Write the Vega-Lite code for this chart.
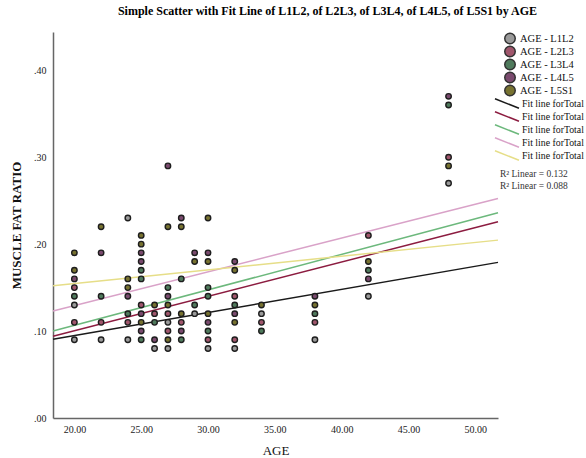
{
  "$schema": "https://vega.github.io/schema/vega-lite/v6.json",
  "width": 445,
  "height": 386,
  "autosize": "none",
  "padding": {"left": 53, "top": 32, "right": 88, "bottom": 40},
  "background": "white",
  "config": {"view": {"stroke": null}, "font": "Liberation Serif"},
  "title": {
    "text": "Simple Scatter with Fit Line of L1L2,  of L2L3,  of L3L4,  of L4L5,  of L5S1 by AGE",
    "font": "Liberation Serif", "fontSize": 12, "fontWeight": "bold", "color": "black",
    "anchor": "middle", "offset": 14, "dx": 52
  },
  "datasets": {
    "points": [
      {"age": 20, "ratio": 0.19, "series": "AGE - L5S1"},
      {"age": 20, "ratio": 0.17, "series": "AGE - L5S1"},
      {"age": 20, "ratio": 0.16, "series": "AGE - L4L5"},
      {"age": 20, "ratio": 0.15, "series": "AGE - L2L3"},
      {"age": 20, "ratio": 0.14, "series": "AGE - L3L4"},
      {"age": 20, "ratio": 0.13, "series": "AGE - L1L2"},
      {"age": 20, "ratio": 0.11, "series": "AGE - L2L3"},
      {"age": 20, "ratio": 0.09, "series": "AGE - L1L2"},
      {"age": 22, "ratio": 0.22, "series": "AGE - L5S1"},
      {"age": 22, "ratio": 0.19, "series": "AGE - L4L5"},
      {"age": 22, "ratio": 0.14, "series": "AGE - L3L4"},
      {"age": 22, "ratio": 0.11, "series": "AGE - L2L3"},
      {"age": 22, "ratio": 0.09, "series": "AGE - L1L2"},
      {"age": 24, "ratio": 0.23, "series": "AGE - L1L2"},
      {"age": 24, "ratio": 0.16, "series": "AGE - L5S1"},
      {"age": 24, "ratio": 0.15, "series": "AGE - L5S1"},
      {"age": 24, "ratio": 0.14, "series": "AGE - L4L5"},
      {"age": 24, "ratio": 0.12, "series": "AGE - L3L4"},
      {"age": 24, "ratio": 0.11, "series": "AGE - L2L3"},
      {"age": 24, "ratio": 0.09, "series": "AGE - L1L2"},
      {"age": 25, "ratio": 0.21, "series": "AGE - L5S1"},
      {"age": 25, "ratio": 0.20, "series": "AGE - L5S1"},
      {"age": 25, "ratio": 0.19, "series": "AGE - L4L5"},
      {"age": 25, "ratio": 0.18, "series": "AGE - L4L5"},
      {"age": 25, "ratio": 0.17, "series": "AGE - L3L4"},
      {"age": 25, "ratio": 0.16, "series": "AGE - L3L4"},
      {"age": 25, "ratio": 0.13, "series": "AGE - L2L3"},
      {"age": 25, "ratio": 0.12, "series": "AGE - L4L5"},
      {"age": 25, "ratio": 0.11, "series": "AGE - L5S1"},
      {"age": 25, "ratio": 0.10, "series": "AGE - L4L5"},
      {"age": 25, "ratio": 0.09, "series": "AGE - L3L4"},
      {"age": 26, "ratio": 0.13, "series": "AGE - L5S1"},
      {"age": 26, "ratio": 0.12, "series": "AGE - L2L3"},
      {"age": 26, "ratio": 0.11, "series": "AGE - L3L4"},
      {"age": 26, "ratio": 0.09, "series": "AGE - L4L5"},
      {"age": 26, "ratio": 0.08, "series": "AGE - L1L2"},
      {"age": 27, "ratio": 0.29, "series": "AGE - L4L5"},
      {"age": 27, "ratio": 0.22, "series": "AGE - L5S1"},
      {"age": 27, "ratio": 0.15, "series": "AGE - L3L4"},
      {"age": 27, "ratio": 0.14, "series": "AGE - L4L5"},
      {"age": 27, "ratio": 0.13, "series": "AGE - L5S1"},
      {"age": 27, "ratio": 0.12, "series": "AGE - L2L3"},
      {"age": 27, "ratio": 0.11, "series": "AGE - L1L2"},
      {"age": 27, "ratio": 0.10, "series": "AGE - L2L3"},
      {"age": 27, "ratio": 0.09, "series": "AGE - L5S1"},
      {"age": 27, "ratio": 0.08, "series": "AGE - L1L2"},
      {"age": 28, "ratio": 0.23, "series": "AGE - L4L5"},
      {"age": 28, "ratio": 0.22, "series": "AGE - L5S1"},
      {"age": 28, "ratio": 0.16, "series": "AGE - L3L4"},
      {"age": 28, "ratio": 0.12, "series": "AGE - L5S1"},
      {"age": 28, "ratio": 0.11, "series": "AGE - L2L3"},
      {"age": 28, "ratio": 0.10, "series": "AGE - L4L5"},
      {"age": 28, "ratio": 0.09, "series": "AGE - L3L4"},
      {"age": 29, "ratio": 0.19, "series": "AGE - L4L5"},
      {"age": 29, "ratio": 0.18, "series": "AGE - L5S1"},
      {"age": 29, "ratio": 0.13, "series": "AGE - L3L4"},
      {"age": 29, "ratio": 0.12, "series": "AGE - L1L2"},
      {"age": 30, "ratio": 0.23, "series": "AGE - L5S1"},
      {"age": 30, "ratio": 0.19, "series": "AGE - L4L5"},
      {"age": 30, "ratio": 0.18, "series": "AGE - L5S1"},
      {"age": 30, "ratio": 0.15, "series": "AGE - L3L4"},
      {"age": 30, "ratio": 0.14, "series": "AGE - L3L4"},
      {"age": 30, "ratio": 0.12, "series": "AGE - L5S1"},
      {"age": 30, "ratio": 0.11, "series": "AGE - L4L5"},
      {"age": 30, "ratio": 0.10, "series": "AGE - L3L4"},
      {"age": 30, "ratio": 0.09, "series": "AGE - L2L3"},
      {"age": 30, "ratio": 0.08, "series": "AGE - L1L2"},
      {"age": 32, "ratio": 0.18, "series": "AGE - L4L5"},
      {"age": 32, "ratio": 0.17, "series": "AGE - L5S1"},
      {"age": 32, "ratio": 0.14, "series": "AGE - L2L3"},
      {"age": 32, "ratio": 0.13, "series": "AGE - L3L4"},
      {"age": 32, "ratio": 0.12, "series": "AGE - L4L5"},
      {"age": 32, "ratio": 0.11, "series": "AGE - L5S1"},
      {"age": 32, "ratio": 0.09, "series": "AGE - L2L3"},
      {"age": 32, "ratio": 0.08, "series": "AGE - L1L2"},
      {"age": 34, "ratio": 0.13, "series": "AGE - L5S1"},
      {"age": 34, "ratio": 0.12, "series": "AGE - L1L2"},
      {"age": 34, "ratio": 0.11, "series": "AGE - L2L3"},
      {"age": 34, "ratio": 0.10, "series": "AGE - L3L4"},
      {"age": 38, "ratio": 0.14, "series": "AGE - L4L5"},
      {"age": 38, "ratio": 0.13, "series": "AGE - L5S1"},
      {"age": 38, "ratio": 0.12, "series": "AGE - L3L4"},
      {"age": 38, "ratio": 0.11, "series": "AGE - L2L3"},
      {"age": 38, "ratio": 0.09, "series": "AGE - L1L2"},
      {"age": 42, "ratio": 0.21, "series": "AGE - L2L3"},
      {"age": 42, "ratio": 0.18, "series": "AGE - L5S1"},
      {"age": 42, "ratio": 0.17, "series": "AGE - L3L4"},
      {"age": 42, "ratio": 0.16, "series": "AGE - L4L5"},
      {"age": 42, "ratio": 0.14, "series": "AGE - L1L2"},
      {"age": 48, "ratio": 0.37, "series": "AGE - L4L5"},
      {"age": 48, "ratio": 0.36, "series": "AGE - L3L4"},
      {"age": 48, "ratio": 0.30, "series": "AGE - L2L3"},
      {"age": 48, "ratio": 0.29, "series": "AGE - L5S1"},
      {"age": 48, "ratio": 0.27, "series": "AGE - L1L2"}
    ],
    "fits": [
      {"fit": "L1L2", "age": 18.4, "ratio": 0.0905},
      {"fit": "L1L2", "age": 51.7, "ratio": 0.179},
      {"fit": "L2L3", "age": 18.4, "ratio": 0.094},
      {"fit": "L2L3", "age": 51.7, "ratio": 0.2257},
      {"fit": "L3L4", "age": 18.4, "ratio": 0.1},
      {"fit": "L3L4", "age": 51.7, "ratio": 0.236},
      {"fit": "L4L5", "age": 18.4, "ratio": 0.123},
      {"fit": "L4L5", "age": 51.7, "ratio": 0.2525},
      {"fit": "L5S1", "age": 18.4, "ratio": 0.152},
      {"fit": "L5S1", "age": 51.7, "ratio": 0.2046}
    ],
    "notes": [
      {"age": 51.85, "ratio": 0.2805, "label": "R² Linear = 0.132"},
      {"age": 51.85, "ratio": 0.2667, "label": "R² Linear = 0.088"}
    ]
  },
  "layer": [
    {
      "data": {"name": "fits"},
      "mark": {"type": "line", "strokeWidth": 1.5},
      "encoding": {
        "x": {
          "field": "age", "type": "quantitative",
          "scale": {"domain": [18.4, 51.7], "nice": false, "zero": false},
          "axis": {
            "title": "AGE", "values": [20, 25, 30, 35, 40, 45, 50], "format": ".2f",
            "ticks": false, "grid": false, "domainColor": "#666", "domainWidth": 1.5,
            "labelFont": "Liberation Sans Narrow", "labelFontSize": 10, "labelColor": "#222", "labelPadding": 6,
            "titleFont": "Liberation Serif", "titleFontSize": 13, "titleFontWeight": "normal", "titleColor": "#111", "titlePadding": 10
          }
        },
        "y": {
          "field": "ratio", "type": "quantitative",
          "scale": {"domain": [0, 0.444], "nice": false, "zero": true},
          "axis": {
            "title": "MUSCLE FAT RATIO", "values": [0, 0.1, 0.2, 0.3, 0.4],
            "labelExpr": "substring(format(datum.value, '.2f'), 1)",
            "ticks": false, "grid": false, "domainColor": "#666", "domainWidth": 1.5,
            "labelFont": "Liberation Sans Narrow", "labelFontSize": 10, "labelColor": "#222", "labelPadding": 7,
            "titleFont": "Liberation Serif", "titleFontSize": 13, "titleFontWeight": "bold", "titleColor": "#111", "titlePadding": 10
          }
        },
        "stroke": {
          "field": "fit", "type": "nominal",
          "scale": {"domain": ["L1L2", "L2L3", "L3L4", "L4L5", "L5S1"], "range": ["#1a1a1a", "#8c1c40", "#6cb87c", "#d9a2c8", "#e6de88"]},
          "legend": {
            "orient": "none", "legendX": 441, "legendY": 65, "title": null, "padding": 0,
            "symbolType": "M-1,-0.8L3,0.8", "symbolSize": 144, "symbolStrokeWidth": 1.5,
            "labelExpr": "'Fit line forTotal'", "labelFont": "Liberation Serif", "labelFontSize": 9.8,
            "labelColor": "#111", "labelOffset": 14, "rowPadding": 0, "clipHeight": 13
          }
        }
      }
    },
    {
      "data": {"name": "points"},
      "mark": {"type": "circle", "size": 30, "stroke": "#1e1e1e", "strokeWidth": 1.4, "opacity": 1},
      "encoding": {
        "x": {"field": "age", "type": "quantitative", "scale": {"domain": [18.4, 51.7], "nice": false, "zero": false}},
        "y": {"field": "ratio", "type": "quantitative", "scale": {"domain": [0, 0.444], "nice": false, "zero": true}},
        "fill": {
          "field": "series", "type": "nominal",
          "scale": {"domain": ["AGE - L1L2", "AGE - L2L3", "AGE - L3L4", "AGE - L4L5", "AGE - L5S1"], "range": ["#9a9a9a", "#a0566c", "#4f7a5c", "#7a4a6e", "#777230"]},
          "legend": {
            "orient": "none", "legendX": 451, "legendY": 0, "title": null, "padding": 0,
            "symbolType": "circle", "symbolSize": 110, "symbolStrokeColor": "#333", "symbolStrokeWidth": 1.5,
            "labelFont": "Liberation Serif", "labelFontSize": 10.5, "labelColor": "#111", "labelOffset": 4, "rowPadding": 0, "clipHeight": 13
          }
        }
      }
    },
    {
      "data": {"name": "notes"},
      "mark": {"type": "text", "align": "left", "baseline": "middle", "font": "Liberation Serif", "fontSize": 9.5, "color": "#333"},
      "encoding": {
        "x": {"field": "age", "type": "quantitative", "scale": {"domain": [18.4, 51.7], "nice": false, "zero": false}},
        "y": {"field": "ratio", "type": "quantitative", "scale": {"domain": [0, 0.444], "nice": false, "zero": true}},
        "text": {"field": "label"}
      }
    }
  ]
}
